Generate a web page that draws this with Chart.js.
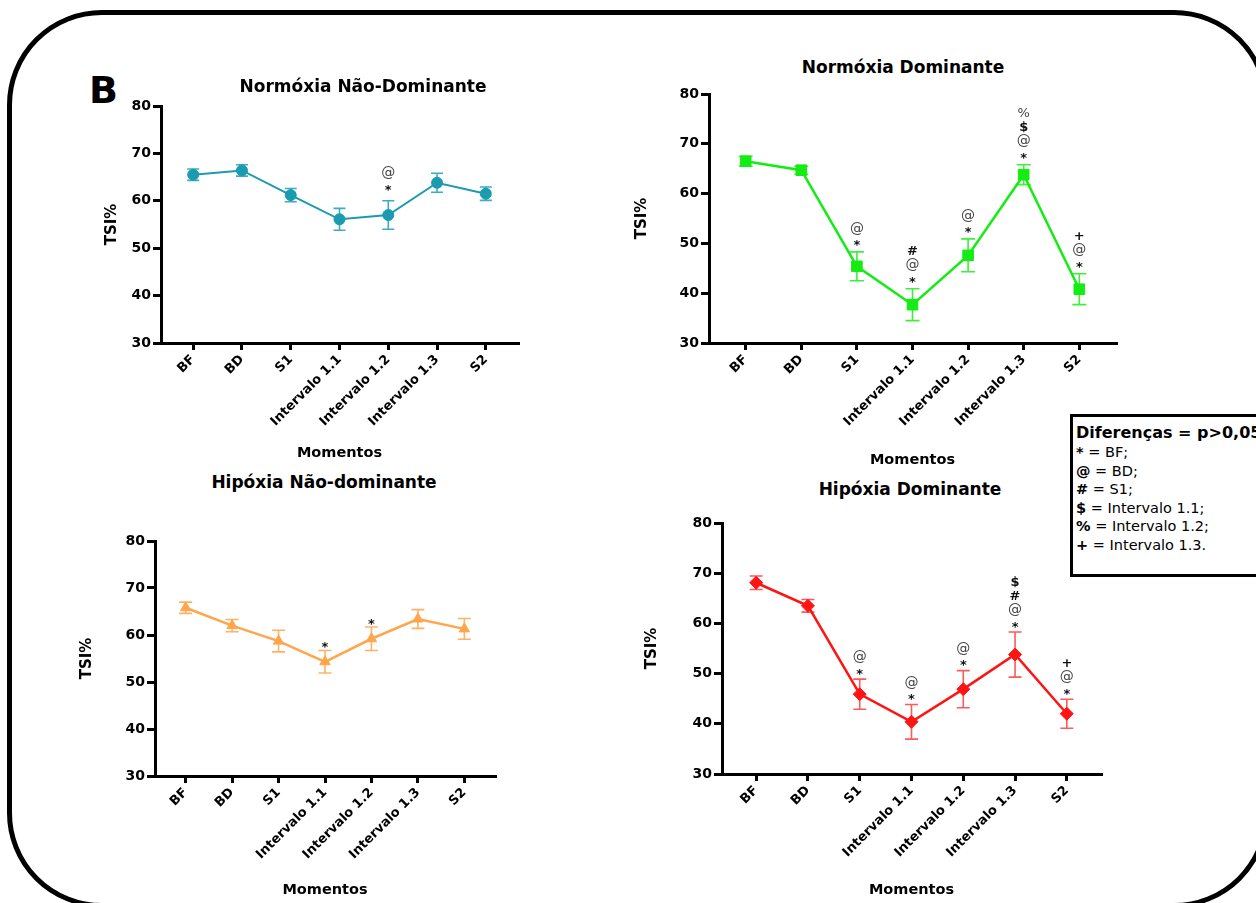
<!DOCTYPE html>
<html>
<head>
<meta charset="utf-8">
<script src="https://cdn.jsdelivr.net/npm/chart.js@4.4.1/dist/chart.umd.min.js"></script>
<style>
  html, body { margin:0; padding:0; background:#fff; }
  body { width:1256px; height:903px; position:relative; overflow:hidden; font-family:'DejaVu Sans', sans-serif; }
  .frame { position:absolute; left:7px; top:10px; width:1262px; height:898px; box-sizing:border-box;
           border:5px solid #000; border-radius:95px; }
  canvas { position:absolute; }
  .ttl { position:absolute; transform:translate(-50%,-50%); font-weight:bold; font-size:17px; line-height:1; white-space:nowrap; color:#000; }
  .big { position:absolute; left:89px; top:71px; font-weight:bold; font-size:38px; line-height:1; color:#000; }
  .legend { position:absolute; left:1070px; top:414px; width:220px; height:163px; box-sizing:border-box;
            border:3px solid #000; background:#fff; padding:6px 0 0 3px; color:#000; }
  .legend .h { font-weight:bold; font-size:16px; line-height:20px; white-space:nowrap; }
  .legend .r { font-size:14.5px; line-height:18.5px; white-space:nowrap; }
</style>
</head>
<body>
<div class="frame"></div>
<div class="big">B</div>

<canvas id="c1" width="427" height="370" style="left:103px; top:92px;"></canvas>
<canvas id="c2" width="495" height="389" style="left:633px; top:80px;"></canvas>
<canvas id="c3" width="429" height="372" style="left:78px; top:527px;"></canvas>
<canvas id="c4" width="470" height="390" style="left:643px; top:509px;"></canvas>

<div class="ttl" style="left:363px; top:86px;">Normóxia Não-Dominante</div>
<div class="ttl" style="left:903px; top:67px;">Normóxia Dominante</div>
<div class="ttl" style="left:324px; top:482px;">Hipóxia Não-dominante</div>
<div class="ttl" style="left:910px; top:489px;">Hipóxia Dominante</div>

<div class="legend">
  <div class="h">Diferenças = p&gt;0,05</div>
  <div class="r"><b>*</b> = BF;</div>
  <div class="r"><b>@</b> = BD;</div>
  <div class="r"><b>#</b> = S1;</div>
  <div class="r"><b>$</b> = Intervalo 1.1;</div>
  <div class="r"><b>%</b> = Intervalo 1.2;</div>
  <div class="r"><b>+</b> = Intervalo 1.3.</div>
</div>

<script>
// ---------- DATA ----------
const categories = ['BF', 'BD', 'S1', 'Intervalo 1.1', 'Intervalo 1.2', 'Intervalo 1.3', 'S2'];
const yTicks = [30, 40, 50, 60, 70, 80];

// Normóxia Não-Dominante
const normNDMean = [65.5, 66.4, 61.2, 56.1, 57.0, 63.8, 61.5];
const normNDErr  = [1.2, 1.2, 1.4, 2.3, 3.0, 2.0, 1.4];
const normNDMarks = ['', '', '', '', '*@', '', ''];

// Normóxia Dominante
const normDMean = [66.5, 64.7, 45.4, 37.7, 47.6, 63.8, 40.8];
const normDErr  = [1.0, 0.8, 2.9, 3.2, 3.3, 2.0, 3.1];
const normDMarks = ['', '', '*@', '*@#', '*@', '*@$%', '*@+'];

// Hipóxia Não-dominante
const hipNDMean = [65.8, 62.0, 58.7, 54.3, 59.2, 63.4, 61.3];
const hipNDErr  = [1.2, 1.3, 2.3, 2.4, 2.5, 2.0, 2.2];
const hipNDMarks = ['', '', '', '*', '*', '', ''];

// Hipóxia Dominante
const hipDMean = [68.1, 63.5, 45.9, 40.4, 46.9, 53.8, 42.0];
const hipDErr  = [1.35, 1.25, 3.0, 3.45, 3.7, 4.5, 2.9];
const hipDMarks = ['', '', '*@', '*@', '*@', '*@#$', '*@+'];

// ---------- STYLE / LAYOUT ----------
const FONT = "'DejaVu Sans', sans-serif";

const panels = [
  { id:'c1', yw:58, xh:119, means:normNDMean, errs:normNDErr, marks:normNDMarks,
    color:'#1a9bb0', errColor:'#3aaebf', pointStyle:'circle', radius:5.5, lineWidth:2, cap:6, markGap:13 },
  { id:'c2', yw:76, xh:126, means:normDMean, errs:normDErr, marks:normDMarks,
    color:'#14ec14', errColor:'#3cf03c', pointStyle:'rect', radius:7.5, lineWidth:2.5, cap:7, markGap:9 },
  { id:'c3', yw:77, xh:123, means:hipNDMean, errs:hipNDErr, marks:hipNDMarks,
    color:'#ffa64d', errColor:'#ffb265', pointStyle:'triangle', radius:6, lineWidth:2.5, cap:6.5, markGap:5.5 },
  { id:'c4', yw:79, xh:125, means:hipDMean, errs:hipDErr, marks:hipDMarks,
    color:'#ff1414', errColor:'#ff5a5a', pointStyle:'rectRot', radius:6.5, lineWidth:2.5, cap:6.5, markGap:7.5 }
];

const markFonts = {
  '*': { font: 'bold 13px ' + FONT, color: '#111' },
  '@': { font: '14px ' + FONT, color: '#444' },
  '#': { font: 'bold 13px ' + FONT, color: '#111' },
  '$': { font: 'bold 13px ' + FONT, color: '#111' },
  '%': { font: '13px ' + FONT, color: '#444' },
  '+': { font: 'bold 13px ' + FONT, color: '#111' }
};

const errorBarPlugin = {
  id: 'errorBars',
  beforeDatasetsDraw(chart, args, opts) {
    const { ctx, scales: { x, y } } = chart;
    ctx.save();
    ctx.strokeStyle = opts.color;
    ctx.lineWidth = 1.6;
    opts.means.forEach((m, i) => {
      const e = opts.errs[i];
      const px = x.getPixelForValue(i);
      const top = y.getPixelForValue(m + e);
      const bot = y.getPixelForValue(m - e);
      ctx.beginPath();
      ctx.moveTo(px, top); ctx.lineTo(px, bot);
      ctx.moveTo(px - opts.cap, top); ctx.lineTo(px + opts.cap, top);
      ctx.moveTo(px - opts.cap, bot); ctx.lineTo(px + opts.cap, bot);
      ctx.stroke();
    });
    ctx.restore();
  },
  afterDatasetsDraw(chart, args, opts) {
    const { ctx, scales: { x, y } } = chart;
    ctx.save();
    ctx.textAlign = 'center';
    ctx.textBaseline = 'middle';
    opts.means.forEach((m, i) => {
      const s = opts.marks[i];
      if (!s) return;
      const px = x.getPixelForValue(i);
      const top = y.getPixelForValue(m + opts.errs[i]);
      [...s].forEach((ch, k) => {
        const f = markFonts[ch];
        ctx.font = f.font;
        ctx.fillStyle = f.color;
        const yy = top - opts.gap - k * 14 + (ch === '*' ? 3 : 0);
        ctx.fillText(ch, px, yy);
      });
    });
    ctx.restore();
  }
};

function makeChart(p) {
  const data = categories.map((c, i) => ({ x: i, y: p.means[i] }));
  return new Chart(document.getElementById(p.id), {
    type: 'line',
    data: {
      datasets: [{
        data,
        borderColor: p.color,
        backgroundColor: p.color,
        borderWidth: p.lineWidth,
        pointStyle: p.pointStyle,
        pointRadius: p.radius,
        pointBackgroundColor: p.color,
        pointBorderColor: p.color,
        pointBorderWidth: 1,
        tension: 0,
        clip: false
      }]
    },
    options: {
      responsive: false,
      animation: false,
      devicePixelRatio: 1,
      layout: { padding: { top: 14, right: 12, left: 0, bottom: 0 } },
      plugins: {
        legend: { display: false },
        tooltip: { enabled: false },
        errorBars: { means: p.means, errs: p.errs, marks: p.marks, color: p.errColor, cap: p.cap, gap: p.markGap }
      },
      scales: {
        x: {
          type: 'linear',
          min: -0.66, max: 6.66,
          afterBuildTicks(s) { s.ticks = categories.map((c, i) => ({ value: i })); },
          afterFit(s) { s.height = p.xh; },
          ticks: {
            autoSkip: false, minRotation: 45, maxRotation: 45,
            callback: (v) => categories[v],
            font: { family: FONT, weight: 'bold', size: 13 }, color: '#000', padding: 2
          },
          grid: { display: true, drawOnChartArea: false, drawTicks: true, tickLength: 7, lineWidth: 3, color: '#000' },
          border: { display: true, color: '#000', width: 3 },
          title: { display: true, text: 'Momentos', font: { family: FONT, weight: 'bold', size: 14.5 }, color: '#000', padding: 0 }
        },
        y: {
          min: 30, max: 80,
          afterBuildTicks(s) { s.ticks = yTicks.map(v => ({ value: v })); },
          afterFit(s) { s.width = p.yw; },
          ticks: { font: { family: FONT, weight: 'bold', size: 14 }, color: '#000', padding: 2 },
          grid: { display: true, drawOnChartArea: false, drawTicks: true, tickLength: 8, lineWidth: 3, color: '#000' },
          border: { display: true, color: '#000', width: 3 },
          title: { display: true, text: 'TSI%', font: { family: FONT, weight: 'bold', size: 15 }, color: '#000', padding: 0 }
        }
      }
    },
    plugins: [errorBarPlugin]
  });
}

panels.forEach(makeChart);
</script>
</body>
</html>
